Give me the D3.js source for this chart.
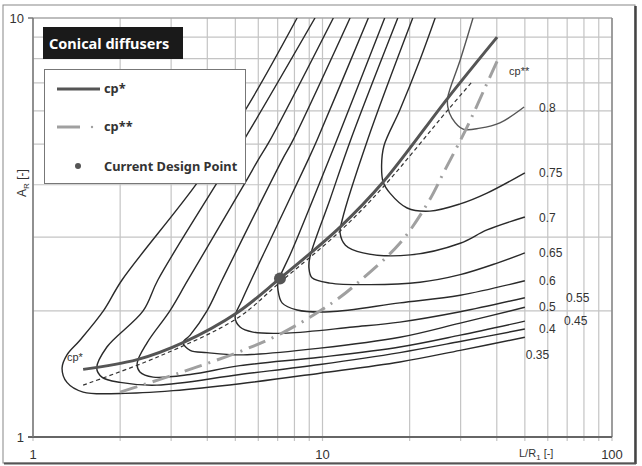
<!DOCTYPE html>
<html>
<head>
<meta charset="utf-8">
<script src="https://cdn.jsdelivr.net/npm/d3@7"></script>
<style>
body { margin:0; background:#fff; }
</style>
</head>
<body>
<svg id="chart"></svg>
<script>
// contour levels of cp and their curves as [L/R1, AR]
var levels = [0.35, 0.4, 0.45, 0.5, 0.55, 0.6, 0.65, 0.7, 0.75, 0.8];

var c35 = [[8.17,10],[5.49,6.13],[3.69,4.04],[2.03,2.37],[1.75,2.0],[1.45,1.70],[1.31,1.57],[1.26,1.46],[1.31,1.35],[1.49,1.28],[2.0,1.27],[3.05,1.29],[5.19,1.34],[9.8,1.42],[18.5,1.51],[29.9,1.61],[50,1.73]];
var c40 = [[9.42,10],[5.40,5.17],[4.32,4.04],[2.70,2.37],[2.40,2.0],[1.80,1.64],[1.66,1.46],[1.73,1.39],[2.0,1.35],[2.68,1.33],[5.19,1.41],[9.8,1.49],[18.5,1.59],[29.9,1.69],[50,1.81]];
var c45 = [[10.9,10],[6.59,5.11],[5.99,4.58],[5.40,4.04],[3.43,2.37],[2.97,2.0],[2.48,1.68],[2.29,1.50],[2.34,1.43],[2.60,1.39],[3.49,1.41],[5.19,1.48],[9.8,1.55],[18.5,1.64],[29.9,1.75],[50,1.89]];
var c50 = [[12.45,10],[7.91,5.11],[7.25,4.58],[4.50,2.37],[3.99,2.0],[3.49,1.75],[3.30,1.68],[3.49,1.61],[3.99,1.59],[5.19,1.57],[9.8,1.63],[18.5,1.73],[29.9,1.87],[50,2.04]];
var c55 = [[14.4,10],[9.57,5.11],[8.91,4.58],[6.85,3.12],[5.27,2.12],[4.99,1.93],[5.19,1.83],[5.75,1.78],[7.54,1.77],[12.75,1.83],[18.5,1.88],[29.9,1.99],[50,2.15]];
var c60 = [[16.4,10],[11.2,5.11],[7.85,2.79],[7.02,2.34],[7.02,2.24],[7.25,2.09],[8.17,2.01],[10.6,1.99],[18.5,2.09],[29.9,2.18],[50,2.36]];
var c65 = [[18.2,10],[12.5,5.11],[10.6,3.68],[9.05,2.69],[8.98,2.53],[9.2,2.40],[10.6,2.33],[14.6,2.31],[21.7,2.34],[29.9,2.44],[40.1,2.60],[50,2.75]];
var c70 = [[20.5,10],[14.3,5.11],[11.7,3.30],[11.5,3.07],[12.0,2.87],[13.8,2.75],[20.1,2.72],[29.9,2.90],[37.0,3.12],[50,3.35]];
var c75 = [[24.5,10],[21.7,7.94],[18.5,6.03],[16.3,4.95],[16.0,4.45],[16.2,4.06],[17.1,3.82],[19.6,3.52],[23.5,3.46],[29.9,3.60],[37.0,3.82],[50,4.27]];
var c80 = [[33.1,10],[29.9,7.94],[27.1,6.48],[27.1,6.13],[28.0,5.77],[30.6,5.43],[35.0,5.46],[41.0,5.62],[49.7,6.13]];
var contours = [c35, c40, c45, c50, c55, c60, c65, c70, c75, c80];

// label anchor points [L/R1, AR]
var labelPos = [[50.4,1.57],[56,1.81],[68.3,1.89],[56,2.04],[69.4,2.15],[56,2.36],[56,2.75],[56,3.33],[56,4.27],[56,6.10]];

var cpStar = [[1.49,1.45],[2.29,1.53],[3.30,1.68],[5.07,1.98],[7.13,2.39],[11.5,3.17],[16.2,4.06],[27.1,6.44],[40.1,9.0]];
var cpStarDashed = [[1.49,1.33],[2.68,1.55],[5.07,1.92],[7.13,2.34],[11.5,3.10],[16.2,3.95],[27.1,6.03],[32.8,7.03]];
var cpStar2 = [[2.0,1.28],[2.81,1.38],[3.69,1.47],[5.19,1.60],[7.25,1.77],[10.8,2.09],[13.3,2.34],[18.5,2.90],[23.0,3.60],[26.5,4.34],[31.6,5.50],[36.4,6.81],[40.4,7.98]];
var designPoint = [7.13, 2.39];

var svg = d3.select("#chart").attr("width", 642).attr("height", 466)
  .style("font-family", "'Liberation Sans', Arial, sans-serif");
var plot = {left:33, right:612, top:18, bottom:437};

var x = d3.scaleLog().domain([1,100]).range([plot.left, plot.right]);
var y = d3.scaleLog().domain([1,10]).range([plot.bottom, plot.top]);

// outer frame
svg.append("rect").attr("x",3).attr("y",5).attr("width",632).attr("height",458)
  .attr("fill","#fff").attr("stroke","#888").attr("stroke-width",1);
svg.append("line").attr("x1",635.5).attr("x2",635.5).attr("y1",6).attr("y2",464)
  .attr("stroke","#444").attr("stroke-width",2.5);
svg.append("line").attr("x1",4).attr("x2",636).attr("y1",463.5).attr("y2",463.5)
  .attr("stroke","#555").attr("stroke-width",2);

// grid
var grid = svg.append("g");
grid.selectAll(".gx").data(x.ticks()).enter().append("line")
  .attr("x1",function(d){return x(d);}).attr("x2",function(d){return x(d);})
  .attr("y1",plot.top).attr("y2",plot.bottom+4)
  .attr("stroke","#c4c4c4").attr("stroke-width",1.2);
grid.selectAll(".gy").data(y.ticks()).enter().append("line")
  .attr("x1",plot.left).attr("x2",plot.right)
  .attr("y1",function(d){return y(d);}).attr("y2",function(d){return y(d);})
  .attr("stroke","#c4c4c4").attr("stroke-width",1.2);

// plot border
svg.append("line").attr("x1",plot.left).attr("x2",plot.right).attr("y1",plot.top).attr("y2",plot.top)
  .attr("stroke","#999").attr("stroke-width",1.2);
svg.append("line").attr("x1",plot.right).attr("x2",plot.right).attr("y1",plot.top).attr("y2",plot.bottom)
  .attr("stroke","#888").attr("stroke-width",1.5);
svg.append("line").attr("x1",plot.left-5).attr("x2",plot.right).attr("y1",plot.bottom).attr("y2",plot.bottom)
  .attr("stroke","#666").attr("stroke-width",2);
svg.append("line").attr("x1",plot.left).attr("x2",plot.left).attr("y1",plot.top).attr("y2",plot.bottom)
  .attr("stroke","#777").attr("stroke-width",1.5);
svg.append("line").attr("x1",plot.left-5).attr("x2",plot.left).attr("y1",plot.top).attr("y2",plot.top)
  .attr("stroke","#777").attr("stroke-width",1.5);

// tick labels
var xLabels = [1, 10, 100];
var yLabels = [1, 10];
svg.selectAll(".xl").data(xLabels).enter().append("text")
  .attr("x",function(d){return x(d);}).attr("y",459)
  .attr("text-anchor","middle").attr("font-size",13).attr("fill","#333")
  .text(function(d){return d;});
svg.selectAll(".yl").data(yLabels).enter().append("text")
  .attr("x",24).attr("y",function(d){return y(d)+5;})
  .attr("text-anchor","end").attr("font-size",13).attr("fill","#333")
  .text(function(d){return d;});

// axis titles
var xt = svg.append("text").attr("x",519).attr("y",457).attr("font-size",11).attr("fill","#333");
xt.append("tspan").text("L/R");
xt.append("tspan").attr("font-size",8).attr("dy",3).text("1");
xt.append("tspan").attr("dy",-3).text(" [-]");
var yt = svg.append("text").attr("transform","translate(26,197) rotate(-90)")
  .attr("font-size",12).attr("fill","#333");
yt.append("tspan").text("A");
yt.append("tspan").attr("font-size",8).attr("dy",3).text("R");
yt.append("tspan").attr("dy",-3).text(" [-]");

var line = d3.line()
  .x(function(d){return x(d[0]);})
  .y(function(d){return y(d[1]);})
  .curve(d3.curveCatmullRom.alpha(0.5));

svg.append("clipPath").attr("id","clip").append("rect")
  .attr("x",plot.left).attr("y",plot.top).attr("width",plot.right-plot.left).attr("height",plot.bottom-plot.top);
var target = svg.append("g").attr("clip-path","url(#clip)");

target.selectAll(".contour").data(contours).enter().append("path")
  .attr("d",line).attr("fill","none")
  .attr("stroke",function(d,i){return i==9 ? "#555" : "#2a2a2a";})
  .attr("stroke-width",1.4);

target.append("path").datum(cpStar2).attr("d",line).attr("fill","none")
  .attr("stroke","#a0a0a0").attr("stroke-width",3)
  .attr("stroke-dasharray","18,7,2,7");
target.append("path").datum(cpStarDashed).attr("d",line).attr("fill","none")
  .attr("stroke","#333").attr("stroke-width",1.2).attr("stroke-dasharray","4,3");
target.append("path").datum(cpStar).attr("d",line).attr("fill","none")
  .attr("stroke","#555").attr("stroke-width",3);
target.append("circle").attr("cx",x(designPoint[0])).attr("cy",y(designPoint[1]))
  .attr("r",6).attr("fill","#555");

// contour labels
svg.selectAll(".cl").data(levels).enter().append("text")
  .attr("x",function(d,i){return x(labelPos[i][0]);})
  .attr("y",function(d,i){return y(labelPos[i][1])+4;})
  .attr("font-size",12).attr("fill","#333")
  .text(function(d){return d;});
svg.append("text").attr("x",x(44.1)).attr("y",y(7.47)+4).attr("font-size",11).attr("fill","#333").text("cp**");
svg.append("text").attr("x",x(1.31)).attr("y",y(1.55)+4).attr("font-size",11).attr("fill","#333").text("cp*");

// title box
svg.append("rect").attr("x",43).attr("y",27).attr("width",140).attr("height",32).attr("fill","#1a1a1a");
svg.append("text").attr("x",49).attr("y",49).style("font-family","'Noto Sans', sans-serif")
  .attr("font-weight","bold").attr("font-size",14.5).attr("fill","#fff").text("Conical diffusers");

// legend
var legend = svg.append("g");
legend.append("rect").attr("x",44.5).attr("y",69.5).attr("width",201).attr("height",114)
  .attr("fill","#fff").attr("stroke","#777").attr("stroke-width",1);
legend.append("line").attr("x1",57).attr("x2",100).attr("y1",89).attr("y2",89)
  .attr("stroke","#555").attr("stroke-width",3);
legend.append("line").attr("x1",57).attr("x2",80).attr("y1",127).attr("y2",127)
  .attr("stroke","#a0a0a0").attr("stroke-width",3);
legend.append("circle").attr("cx",92).attr("cy",127).attr("r",1.2).attr("fill","#a0a0a0");
legend.append("circle").attr("cx",78).attr("cy",166).attr("r",3).attr("fill","#555");
var legendNames = ["cp*","cp**","Current Design Point"];
legend.selectAll(".lt").data(legendNames).enter().append("text")
  .attr("x",104).attr("y",function(d,i){return [93,131,171][i];})
  .style("font-family","'Noto Sans', sans-serif").attr("font-weight","bold")
  .attr("font-size",12.8).attr("fill","#333").text(function(d){return d;});
</script>
</body>
</html>
